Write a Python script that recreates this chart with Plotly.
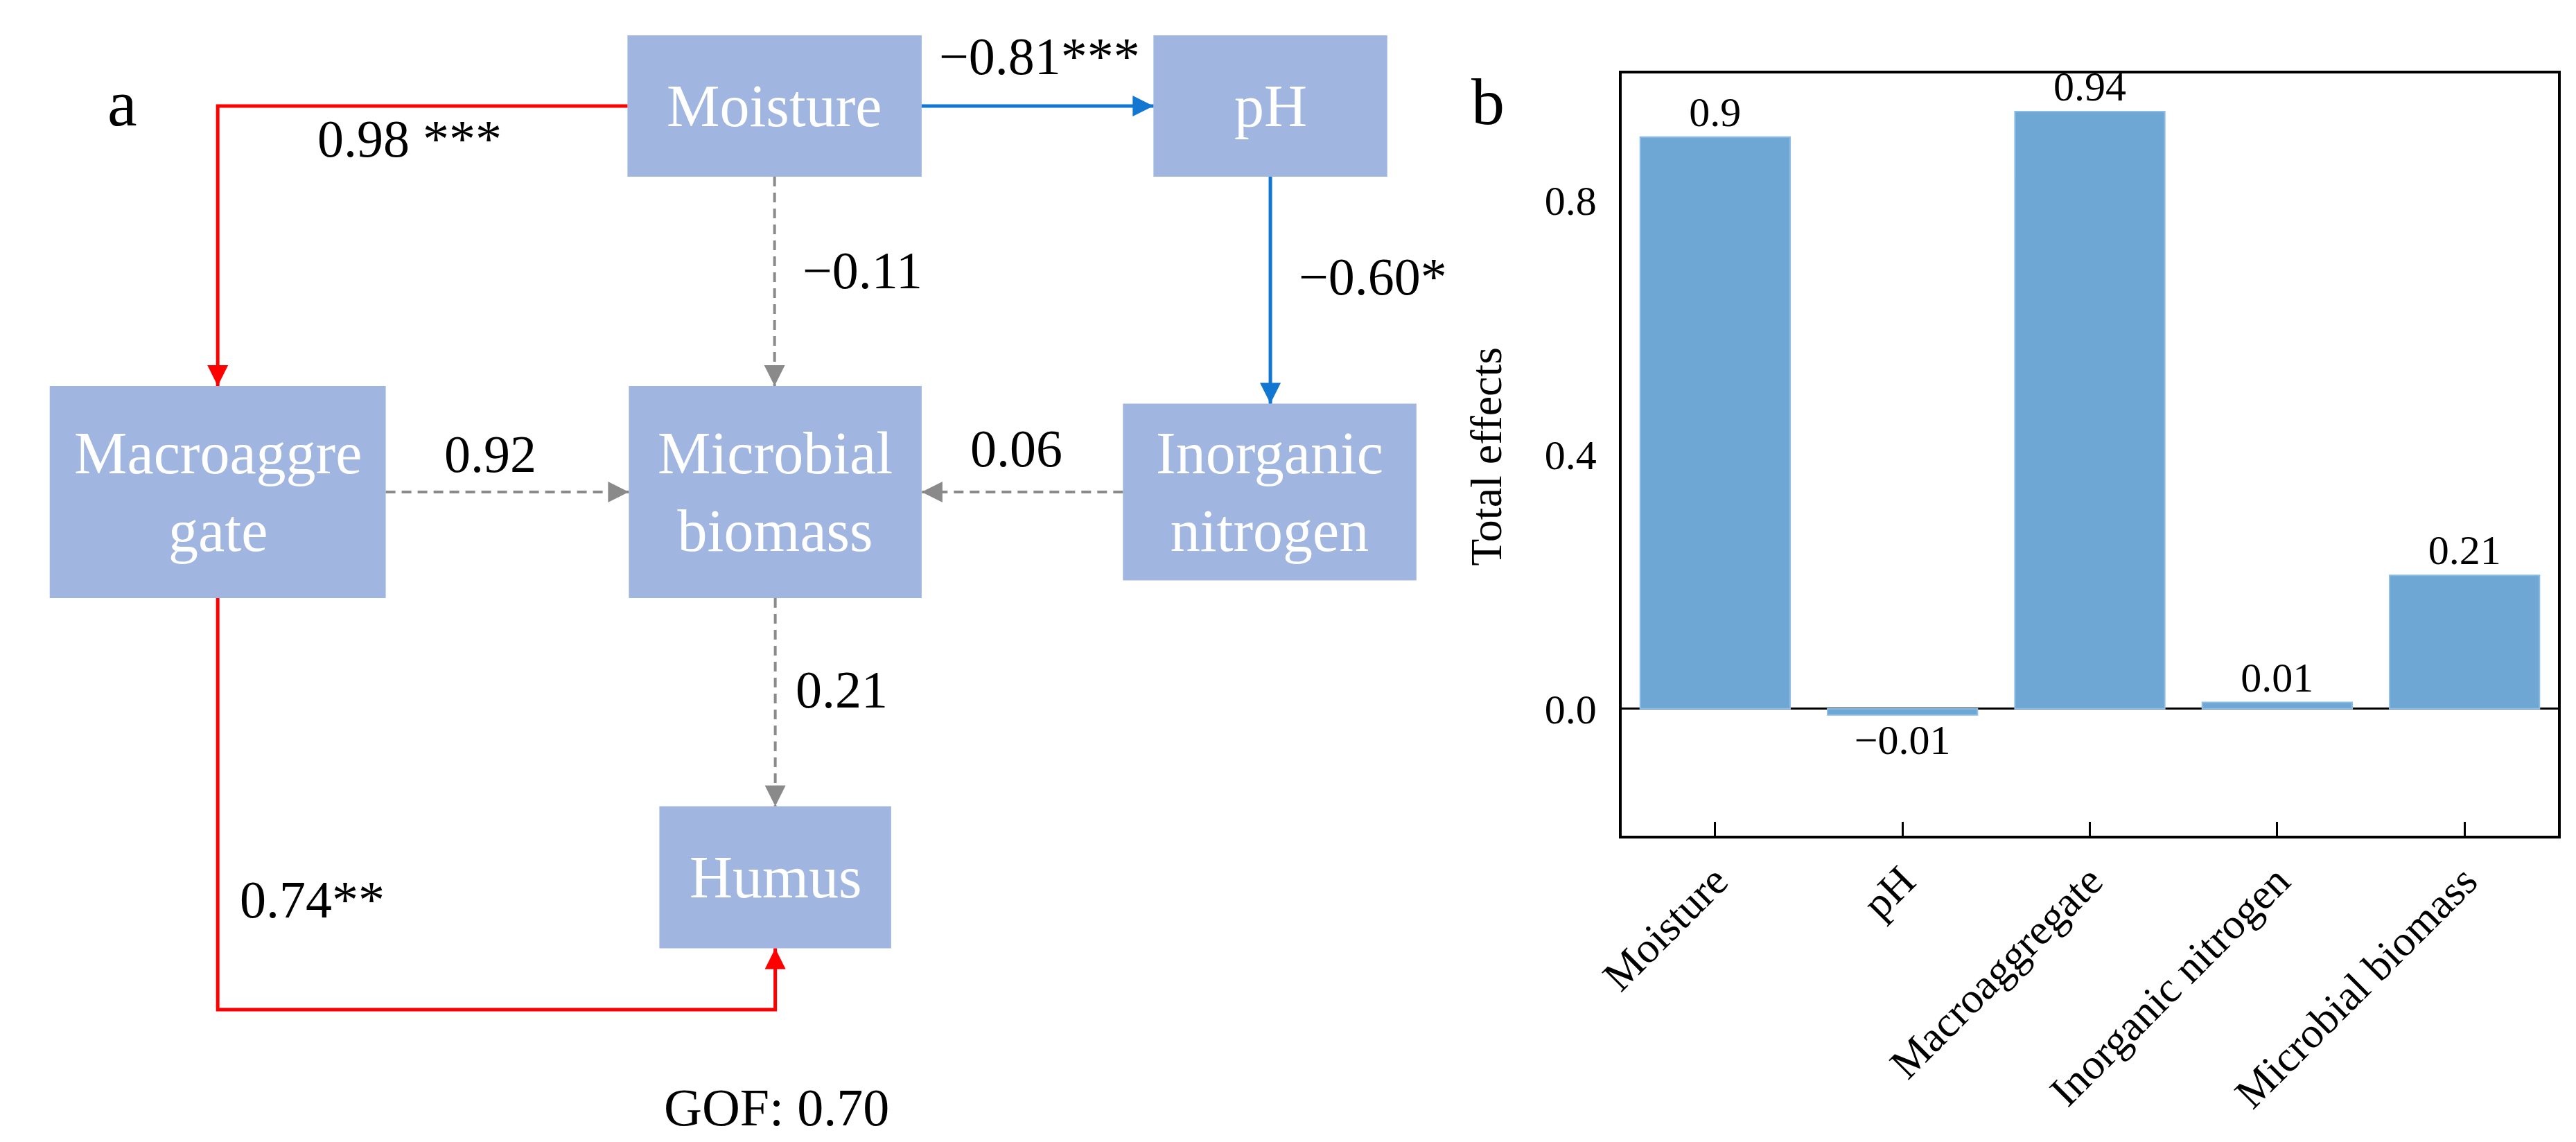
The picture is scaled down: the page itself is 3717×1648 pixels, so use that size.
import plotly.graph_objects as go

# ---------------- data ----------------
categories = ["Moisture", "pH", "Macroaggregate", "Inorganic nitrogen", "Microbial biomass"]
total_effects = [0.90, -0.01, 0.94, 0.01, 0.21]
y_tick_vals = [0.0, 0.4, 0.8]

node_names = ["Moisture", "pH", "Macroaggregate", "Microbial biomass", "Inorganic nitrogen", "Humus"]
node_labels = ["Moisture", "pH", "Macroaggre<br>gate", "Microbial<br>biomass", "Inorganic<br>nitrogen", "Humus"]

edge_from = ["Moisture", "Moisture", "Moisture", "pH", "Macroaggregate",
             "Inorganic nitrogen", "Microbial biomass", "Macroaggregate"]
edge_to = ["Macroaggregate", "pH", "Microbial biomass", "Inorganic nitrogen",
           "Microbial biomass", "Microbial biomass", "Humus", "Humus"]
edge_coef = [0.98, -0.81, -0.11, -0.60, 0.92, 0.06, 0.21, 0.74]
edge_sig = ["***", "***", "", "*", "", "", "", "**"]
edge_sep = [" ", "", "", "", "", "", "", ""]
gof_value = 0.70

# ---------------- layout (pixel positions / styles) ----------------
W, H = 3717, 1648
FONT = "Liberation Serif"
node_geom = {  # cx, cy, w, h
    "Moisture": (1082, 145, 429, 204),
    "pH": (1805, 145, 341, 204),
    "Macroaggregate": (270, 702, 490, 306),
    "Microbial biomass": (1083, 702, 427, 306),
    "Inorganic nitrogen": (1804, 702, 428, 255),
    "Humus": (1083, 1258, 338, 205),
}
edge_route = ["elbow", "straight", "straight", "straight", "straight", "straight", "straight", "ubottom"]
ubottom_level = 1449
edge_label_pos = [(550, 192), (1468, 73), (1210, 382), (1954, 391),
                  (667, 647), (1435, 639), (1180, 987), (408, 1290)]
gof_pos = (1085, 1590)
panel_a_pos = (131, 140)
panel_b_pos = (2122, 138)
ytitle_pos = (2119, 651)
bar_px = dict(left=2317, right=3683, top=98, bottom=1198)

BOX_FILL = "#A0B6E0"
BAR_FILL = "#6FA7D4"
RED = "#FF0000"
BLUE = "#1177D1"
GRAY = "#8A8A8A"


def fmt_num(v, digits=2):
    s = f"{abs(v):.{digits}f}"
    return ("\u2212" if v < 0 else "") + s


def fmt_short(v):
    s = f"{abs(v):g}"
    return ("\u2212" if v < 0 else "") + s


fig = go.Figure()

# ---------------- panel b: bar chart ----------------
fig.add_trace(go.Bar(
    x=categories, y=total_effects, xaxis="x", yaxis="y",
    marker=dict(color=BAR_FILL, line=dict(color="#8DBDE6", width=2)),
    width=0.8,
    text=[fmt_short(v) for v in total_effects],
    textposition="outside",
    textfont=dict(family=FONT, size=60, color="black"),
    cliponaxis=False, constraintext="none",
    showlegend=False, hoverinfo="skip",
))

# invisible anchor trace for diagram axes
fig.add_trace(go.Scatter(
    x=[node_geom[n][0] for n in node_names], y=[node_geom[n][1] for n in node_names],
    mode="none", xaxis="x2", yaxis="y2", showlegend=False, hoverinfo="skip"))

shapes = []
annotations = []

# ---------------- panel a: nodes ----------------
for name, lab in zip(node_names, node_labels):
    cx, cy, w, h = node_geom[name]
    shapes.append(dict(type="rect", xref="x2", yref="y2",
                       x0=cx - w / 2, x1=cx + w / 2, y0=cy - h / 2, y1=cy + h / 2,
                       fillcolor=BOX_FILL, line=dict(width=0), layer="below"))
    annotations.append(dict(xref="x2", yref="y2", x=cx, y=cy, text=lab, showarrow=False,
                            font=dict(family=FONT, size=86, color="white"),
                            xanchor="center", yanchor="middle"))


def side(name, which):
    cx, cy, w, h = node_geom[name]
    return {"left": (cx - w / 2, cy), "right": (cx + w / 2, cy),
            "top": (cx, cy - h / 2), "bottom": (cx, cy + h / 2)}[which]


def route(src, dst, kind):
    sx, sy, sw, sh = node_geom[src]
    dx, dy, dw, dh = node_geom[dst]
    if kind == "elbow":  # leave horizontally, arrive vertically from above
        p0 = side(src, "left" if dx < sx else "right")
        p2 = side(dst, "top")
        return [p0, (p2[0], p0[1]), p2]
    if kind == "ubottom":
        p0 = side(src, "bottom")
        p3 = side(dst, "bottom")
        return [p0, (p0[0], ubottom_level), (p3[0], ubottom_level), p3]
    if abs(sx - dx) < abs(sy - dy):  # vertical
        p0 = side(src, "bottom" if dy > sy else "top")
        p1 = side(dst, "top" if dy > sy else "bottom")
        return [p0, (p0[0], p1[1])]
    p0 = side(src, "right" if dx > sx else "left")
    p1 = side(dst, "left" if dx > sx else "right")
    return [p0, (p1[0], p0[1])]


for i in range(len(edge_from)):
    pts = route(edge_from[i], edge_to[i], edge_route[i])
    sig = edge_sig[i] != ""
    color = (RED if edge_coef[i] > 0 else BLUE) if sig else GRAY
    dash = "solid" if sig else "14px,9px"
    lw = 5 if sig else 4
    path = "M " + " L ".join(f"{x},{y}" for x, y in pts)
    shapes.append(dict(type="path", xref="x2", yref="y2", path=path,
                       line=dict(color=color, width=lw, dash=dash), layer="above"))
    # arrowhead at final point
    (xa, ya), (xb, yb) = pts[-2], pts[-1]
    L = ((xb - xa) ** 2 + (yb - ya) ** 2) ** 0.5
    ux, uy = (xb - xa) / L, (yb - ya) / L
    annotations.append(dict(xref="x2", yref="y2", axref="x2", ayref="y2",
                            x=xb, y=yb, ax=xb - ux * 30, ay=yb - uy * 30,
                            text="", showarrow=True, arrowhead=2, arrowsize=1.5,
                            arrowwidth=4, arrowcolor=color, standoff=0))
    lx, ly = edge_label_pos[i]
    annotations.append(dict(xref="x2", yref="y2", x=lx, y=ly,
                            text=fmt_num(edge_coef[i]) + edge_sep[i] + edge_sig[i],
                            showarrow=False, font=dict(family=FONT, size=76, color="black"),
                            xanchor="center", yanchor="middle"))

annotations.append(dict(xref="x2", yref="y2", x=gof_pos[0], y=gof_pos[1],
                        text=f"GOF: {gof_value:.2f}", showarrow=False,
                        font=dict(family=FONT, size=76, color="black"),
                        xanchor="center", yanchor="middle"))
annotations.append(dict(xref="x2", yref="y2", x=panel_a_pos[0], y=panel_a_pos[1], text="a",
                        showarrow=False, font=dict(family=FONT, size=96, color="black"),
                        xanchor="center", yanchor="middle"))
annotations.append(dict(xref="x2", yref="y2", x=panel_b_pos[0], y=panel_b_pos[1], text="b",
                        showarrow=False, font=dict(family=FONT, size=96, color="black"),
                        xanchor="center", yanchor="middle"))
annotations.append(dict(xref="x2", yref="y2", x=ytitle_pos[0], y=ytitle_pos[1],
                        text="Total effects", textangle=-90, showarrow=False,
                        font=dict(family=FONT, size=64, color="black"),
                        xanchor="center", yanchor="middle"))

fig.update_layout(
    width=W, height=H,
    margin=dict(l=0, r=0, t=0, b=0),
    paper_bgcolor="white", plot_bgcolor="rgba(0,0,0,0)",
    font=dict(family=FONT, color="black"),
    shapes=shapes, annotations=annotations,
    bargap=0.2,
    xaxis=dict(domain=[bar_px["left"] / W, bar_px["right"] / W], anchor="y",
               range=[-0.5, len(categories) - 0.5],
               showline=True, mirror=True, linecolor="black", linewidth=4,
               ticks="inside", ticklen=20, tickwidth=3, tickcolor="black",
               tickangle=-45, tickfont=dict(family=FONT, size=62, color="black"),
               showgrid=False, zeroline=False),
    yaxis=dict(domain=[1 - bar_px["bottom"] / H, 1 - bar_px["top"] / H], anchor="x",
               range=[-0.2, 1.0], tickvals=y_tick_vals,
               ticktext=[f"{v:.1f}" for v in y_tick_vals],
               showline=True, mirror=True, linecolor="black", linewidth=4,
               ticks="", ticklabelstandoff=20,
               tickfont=dict(family=FONT, size=60, color="black"),
               showgrid=False, zeroline=True, zerolinecolor="black", zerolinewidth=3),
    xaxis2=dict(domain=[0, 1], anchor="y2", range=[0, W], visible=False, fixedrange=True),
    yaxis2=dict(domain=[0, 1], anchor="x2", range=[H, 0], visible=False, fixedrange=True),
)

fig.write_html("out.html")
